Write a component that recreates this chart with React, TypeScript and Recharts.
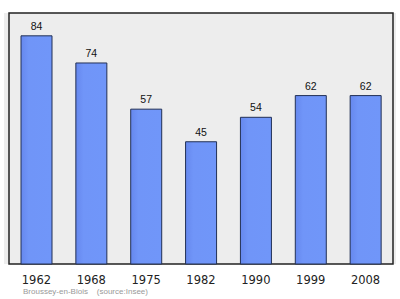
import { BarChart, Bar, XAxis, YAxis, CartesianGrid, ReferenceArea, LabelList } from 'recharts';

const years = ['1962', '1968', '1975', '1982', '1990', '1999', '2008'];
const population = [84, 74, 57, 45, 54, 62, 62];
const commune = 'Broussey-en-Blois';
const source = '(source:Insee)';

const data = years.map((year, i) => ({ year, population: population[i] }));
const yMax = Math.max(...population) * 1.1;

function YearTick({ x, y, payload }: any) {
  return (
    <text
      x={x}
      y={y + 12}
      textAnchor="middle"
      fontFamily="DejaVu Sans"
      fontSize={11.5}
      fill="#222"
    >
      {payload.value}
    </text>
  );
}

export default function App() {
  return (
    <div style={{ position: 'absolute', left: 0, top: 0, width: 400, height: 299, background: '#fff' }}>
      <BarChart
        width={400}
        height={299}
        data={data}
        margin={{ top: 13, right: 4, bottom: 15, left: 4 }}
        barSize={31}
      >
        <defs>
          <linearGradient id="barFill" x1="0" y1="0" x2="1" y2="0">
            <stop offset="0%" stopColor="#6688ee" />
            <stop offset="25%" stopColor="#7095f8" />
            <stop offset="100%" stopColor="#7096f9" />
          </linearGradient>
        </defs>
        <CartesianGrid horizontal={false} vertical={false} fill="#ededed" />
        <XAxis
          dataKey="year"
          height={20}
          axisLine={false}
          tickLine={false}
          tick={<YearTick />}
          interval={0}
          padding={{ left: 5, right: 3 }}
        />
        <YAxis hide domain={[0, yMax]} />
        <Bar
          dataKey="population"
          fill="url(#barFill)"
          stroke="#223055"
          strokeWidth={1}
          isAnimationActive={false}
        >
          <LabelList
            dataKey="population"
            position="top"
            offset={6}
            fontFamily="Liberation Sans"
            fontSize={10.5}
            fill="#111"
          />
        </Bar>
        <ReferenceArea y1={0} y2={yMax} fill="none" stroke="#222" strokeWidth={1.5} ifOverflow="visible" />
      </BarChart>
      <div
        style={{
          position: 'absolute',
          left: 23,
          top: 287,
          fontFamily: 'Liberation Sans',
          fontSize: 8,
          color: '#999',
          whiteSpace: 'pre',
        }}
      >
        {commune + '    ' + source}
      </div>
    </div>
  );
}
